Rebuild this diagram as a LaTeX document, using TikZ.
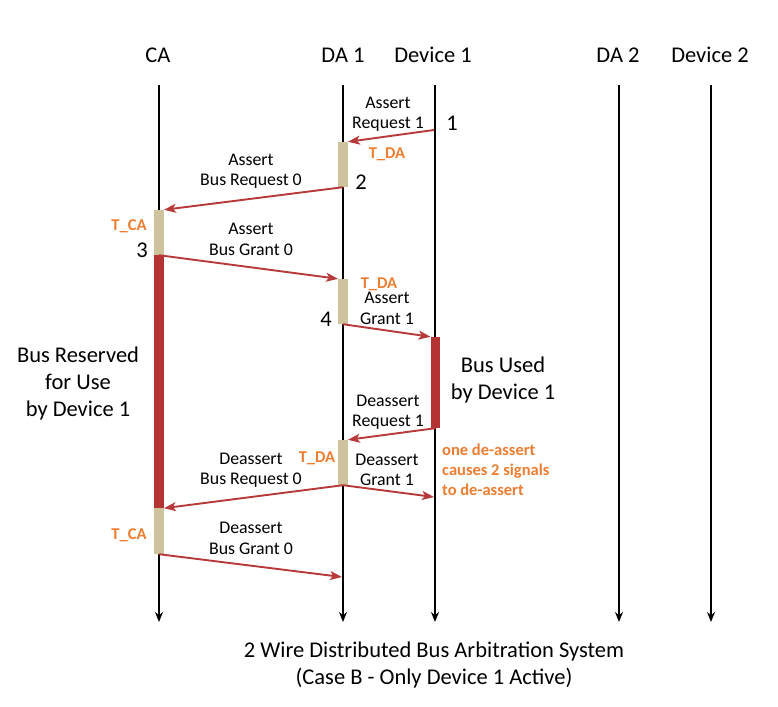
\documentclass[tikz,border=0pt]{standalone}
\usepackage{fontspec}
\setmainfont{Carlito}
\usetikzlibrary{arrows.meta}
\definecolor{sigred}{RGB}{183,57,57}
\definecolor{barred}{RGB}{180,52,52}
\definecolor{tanbar}{RGB}{206,195,157}
\definecolor{orangeT}{RGB}{237,125,49}
\begin{document}
\begin{tikzpicture}[x=1pt,y=-1pt,
  every node/.style={inner sep=0pt},
  lifeline/.style={line width=1.8pt,-{Stealth[length=10pt,width=8pt]}},
  sig/.style={draw=sigred,line width=1.9pt,-{Stealth[length=12pt,width=9pt,inset=3pt]}},
  waitbar/.style={fill=tanbar,draw=none,minimum width=9.5pt},
  usebar/.style={fill=barred,draw=none,minimum width=9.5pt},
  hdr/.style={font=\fontsize{22.5}{27}\selectfont},
  lbl/.style={font=\fontsize{17.8}{20.5}\selectfont,align=center},
  big/.style={font=\fontsize{22.5}{27}\selectfont,align=center},
  tmark/.style={font=\bfseries\fontsize{16.5}{20}\selectfont,text=orangeT},
  note/.style={font=\bfseries\fontsize{16.5}{20}\selectfont,text=orangeT,align=left}]
\useasboundingbox (0,0) rectangle (778,706);

% headers
\node[hdr] (hCA) at (158,55) {CA};
\node[hdr] (hDA1) at (343,55) {DA 1};
\node[hdr] (hDev1) at (433,55) {Device 1};
\node[hdr] (hDA2) at (618,55) {DA 2};
\node[hdr] (hDev2) at (710,55) {Device 2};

% lifelines
\coordinate (tCA) at (159,85);   \coordinate (eCA) at (159,622);
\coordinate (tDA1) at (343,85);  \coordinate (eDA1) at (343,622);
\coordinate (tDev1) at (435,85); \coordinate (eDev1) at (435,622);
\coordinate (tDA2) at (619,85);  \coordinate (eDA2) at (619,622);
\coordinate (tDev2) at (711,85); \coordinate (eDev2) at (711,622);
\draw[lifeline] (tCA) -- (eCA);
\draw[lifeline] (tDA1) -- (eDA1);
\draw[lifeline] (tDev1) -- (eDev1);
\draw[lifeline] (tDA2) -- (eDA2);
\draw[lifeline] (tDev2) -- (eDev2);

% bars
\node[waitbar,minimum height=45pt] (b1) at (343,164.5) {};
\node[waitbar,minimum height=45pt] (b2) at (159,232.5) {};
\node[usebar,minimum height=253pt] (b3) at (159,381.5) {};
\node[waitbar,minimum height=45pt] (b4) at (343,301.5) {};
\node[usebar,minimum height=91pt] (b5) at (435.5,382.5) {};
\node[waitbar,minimum height=45pt] (b6) at (343,462.5) {};
\node[waitbar,minimum height=46pt] (b7) at (159,531) {};

% signals
\coordinate (s1) at (434,130);
\coordinate (e7) at (434,497);
\coordinate (e8) at (342,577);
\draw[sig] (s1) -- (b1.north east);
\draw[sig] (b1.south) -- (b2.north east);
\draw[sig] (b2.south) -- (b4.north west);
\draw[sig] (b4.south) -- (b5.north west);
\draw[sig] (b5.south) -- (b6.north east);
\draw[sig] (b6.south) -- (b3.south east);
\draw[sig] (b6.south) -- (e7);
\draw[sig] (b7.south) -- (e8);

% signal labels
\node[lbl] (l1) at (388,114) {Assert\\Request 1};
\node[lbl] (l2) at (251,171) {Assert\\Bus Request 0};
\node[lbl] (l3) at (251,239.5) {Assert\\Bus Grant 0};
\node[lbl] (l4) at (387,308.5) {Assert\\Grant 1};
\node[lbl] (l5) at (388,412) {Deassert\\Request 1};
\node[lbl] (l6) at (251,470) {Deassert\\Bus Request 0};
\node[lbl] (l7) at (387,470) {Deassert\\Grant 1};
\node[lbl] (l8) at (251,538.5) {Deassert\\Bus Grant 0};

% step numbers
\node[hdr] (n1) at (452,123) {1};
\node[hdr] (n2) at (361,182) {2};
\node[hdr] (n3) at (142,250) {3};
\node[hdr] (n4) at (326,319) {4};

% timing marks
\node[tmark] (t1) at (387,154) {T\_DA};
\node[tmark] (t2) at (129,226) {T\_CA};
\node[tmark] (t3) at (379,284) {T\_DA};
\node[tmark] (t4) at (317,458) {T\_DA};
\node[tmark] (t5) at (129,535) {T\_CA};

% big annotations
\node[big] (res) at (78,383) {Bus Reserved\\for Use\\by Device 1};
\node[big] (used) at (503,380) {Bus Used\\by Device 1};
\node[note,anchor=west] (note) at (442,470) {one de-assert\\causes 2 signals\\to de-assert};

% caption
\node[big] (cap) at (434,665) {2 Wire Distributed Bus Arbitration System\\(Case B - Only Device 1 Active)};
\end{tikzpicture}
\end{document}
